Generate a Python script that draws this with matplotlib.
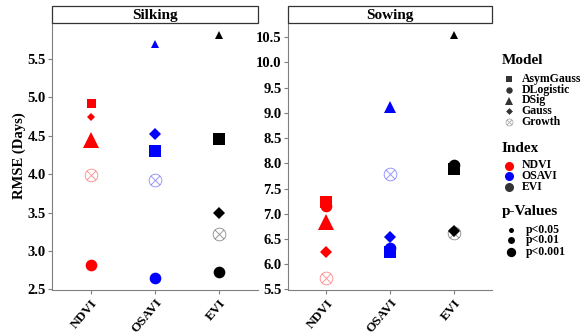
import matplotlib
matplotlib.use('Agg')
import matplotlib.pyplot as plt
import numpy as np
from matplotlib.path import Path
from matplotlib.patches import Rectangle

plt.rcParams['font.family'] = ['Liberation Serif', 'DejaVu Serif']
plt.rcParams['font.weight'] = 'bold'

# ---------------- data ----------------
indices = ['NDVI', 'OSAVI', 'EVI']
models = ['AsymGauss', 'DLogistic', 'DSig', 'Gauss', 'Growth']
pvalue_levels = ['p<0.05', 'p<0.01', 'p<0.001']
panels = ['Silking', 'Sowing']

silking_ndvi = [4.93, 2.82, 4.45, 4.74, 3.99]
silking_osavi = [4.30, 2.65, 5.69, 4.52, 3.92]
silking_evi = [4.46, 2.73, 5.81, 3.50, 3.22]
silking_p_ndvi = ['p<0.01', 'p<0.001', 'p<0.001', 'p<0.01', 'p<0.001']
silking_p_osavi = ['p<0.001', 'p<0.001', 'p<0.05', 'p<0.001', 'p<0.001']
silking_p_evi = ['p<0.001', 'p<0.001', 'p<0.05', 'p<0.001', 'p<0.001']

sowing_ndvi = [7.23, 7.15, 6.83, 6.24, 5.73]
sowing_osavi = [6.25, 6.33, 9.12, 6.53, 7.79]
sowing_evi = [7.88, 7.97, 10.54, 6.65, 6.61]
sowing_p_ndvi = ['p<0.001', 'p<0.001', 'p<0.001', 'p<0.001', 'p<0.001']
sowing_p_osavi = ['p<0.001', 'p<0.001', 'p<0.01', 'p<0.001', 'p<0.001']
sowing_p_evi = ['p<0.001', 'p<0.001', 'p<0.05', 'p<0.001', 'p<0.001']

panel_values = {
    'Silking': [silking_ndvi, silking_osavi, silking_evi],
    'Sowing': [sowing_ndvi, sowing_osavi, sowing_evi],
}
panel_pvals = {
    'Silking': [silking_p_ndvi, silking_p_osavi, silking_p_evi],
    'Sowing': [sowing_p_ndvi, sowing_p_osavi, sowing_p_evi],
}

# ---------------- styles ----------------
index_colors = {'NDVI': '#FF0000', 'OSAVI': '#0000FF', 'EVI': '#000000'}
theta = np.linspace(0, 2 * np.pi, 65)
d = np.sqrt(0.5)
verts = [(np.cos(t), np.sin(t)) for t in theta] + [(-d, -d), (d, d), (-d, d), (d, -d)]
codes = [Path.MOVETO] + [Path.LINETO] * 64 + [Path.MOVETO, Path.LINETO, Path.MOVETO, Path.LINETO]
growth_marker = Path(verts, codes)

model_marker = {'AsymGauss': ('s', 9.0), 'DLogistic': ('o', 8.4), 'DSig': ('^', 11.7),
                'Gauss': ('D', 6.3), 'Growth': (growth_marker, 9.1)}
size_factor = {'p<0.05': 0.48, 'p<0.01': 0.72, 'p<0.001': 1.0}

W, H = 582, 335
fig = plt.figure(figsize=(W / 100, H / 100), dpi=100)

axes_px = {'Silking': (52, 206), 'Sowing': (288, 204)}
top_px, bot_px = 23, 290
grey = '#7f7f7f'

for panel in panels:
    x0, w = axes_px[panel]
    ax = fig.add_axes([x0 / W, (H - bot_px) / H, w / W, (bot_px - top_px) / H])
    vals = panel_values[panel]
    pv = panel_pvals[panel]
    order = ['Growth', 'AsymGauss', 'DLogistic', 'DSig', 'Gauss']
    for i, idx in enumerate(indices):
        col = index_colors[idx]
        for m in order:
            j = models.index(m)
            mk, base = model_marker[m]
            ms = base * size_factor[pv[i][j]]
            if m == 'Growth':
                ax.plot([i + 1], [vals[i][j]], linestyle='none', marker=mk, ms=ms,
                        markerfacecolor='none', markeredgecolor=col, mew=0.7, alpha=0.4)
            else:
                ax.plot([i + 1], [vals[i][j]], linestyle='none', marker=mk, ms=ms,
                        color=col, mew=0)
    ax.set_xlim(0.4, 3.6)
    allv = [v for row in vals for v in row]
    lo, hi = min(allv), max(allv)
    pad = 0.05 * (hi - lo)
    ax.set_ylim(lo - pad, hi + pad)
    ticks = np.arange(np.ceil((lo - pad) * 2) / 2, hi + pad, 0.5)
    ax.set_yticks(ticks)
    ax.set_yticklabels([f'{t:.1f}' for t in ticks])
    ax.set_xticks([1, 2, 3])
    ax.set_xticklabels(indices, rotation=50, ha='right', va='top', rotation_mode='anchor',
                       fontsize=9.5)
    for s in ['top', 'right']:
        ax.spines[s].set_visible(False)
    for s in ['left', 'bottom']:
        ax.spines[s].set_color(grey)
        ax.spines[s].set_linewidth(0.8)
    ax.tick_params(axis='y', color=grey, length=3, width=0.8, labelsize=10.5,
                   labelcolor='black', pad=1.5)
    ax.tick_params(axis='x', color=grey, length=3, width=0.8, labelcolor='black', pad=2)
    for lab in ax.get_xticklabels() + ax.get_yticklabels():
        lab.set_fontweight('bold')
    # strip
    fig.add_artist(Rectangle((x0 / W, (H - top_px) / H), w / W, 16.5 / H,
                             transform=fig.transFigure, facecolor='white',
                             edgecolor='#333333', lw=0.9))
    fig.text((x0 + w / 2) / W, (H - 15) / H, panel, ha='center', va='center',
             fontsize=11, fontweight='bold')

fig.text(19 / W, (H - 156) / H, 'RMSE (Days)', rotation=90, ha='center', va='center',
         fontsize=10.5, fontweight='bold')

# ---------------- legend (manual) ----------------
lg = fig.add_axes([0, 0, 1, 1])
lg.set_xlim(0, W)
lg.set_ylim(H, 0)
lg.axis('off')
lg.patch.set_alpha(0)

leg_col = '#333333'
fs_title, fs_item = 11, 8.5
lg.text(502, 60, 'Model', fontsize=fs_title, fontweight='bold', va='center', ha='left')
model_y = [79, 89.5, 100.5, 111, 122]
for m, y in zip(models, model_y):
    mk, base = model_marker[m]
    if m == 'Growth':
        lg.plot([509], [y], linestyle='none', marker=mk, ms=base * 0.55,
                markerfacecolor='none', markeredgecolor=leg_col, mew=0.6, alpha=0.4)
    else:
        lg.plot([509], [y], linestyle='none', marker=mk, ms=base * 0.55, color=leg_col, mew=0)
    lg.text(521.5, y, m, fontsize=fs_item, fontweight='bold', va='center', ha='left')

lg.text(502, 148, 'Index', fontsize=fs_title, fontweight='bold', va='center', ha='left')
index_y = [165.5, 176.3, 187.2]
for idx, y in zip(indices, index_y):
    c = index_colors[idx] if idx != 'EVI' else leg_col
    lg.plot([508.5], [y], linestyle='none', marker='o', ms=6.5, color=c, mew=0)
    lg.text(521.5, y, idx, fontsize=fs_item, fontweight='bold', va='center', ha='left')

lg.text(502, 212, 'p-Values', fontsize=fs_title, fontweight='bold', va='center', ha='left')
p_y = [229.5, 240, 252]
p_ms = [3.6, 5.0, 6.7]
for lab, y, ms in zip(pvalue_levels, p_y, p_ms):
    lg.plot([510.5], [y], linestyle='none', marker='o', ms=ms, color='black', mew=0)
    lg.text(526, y, lab, fontsize=fs_item, fontweight='bold', va='center', ha='left')

fig.savefig('out.png', dpi=100)
